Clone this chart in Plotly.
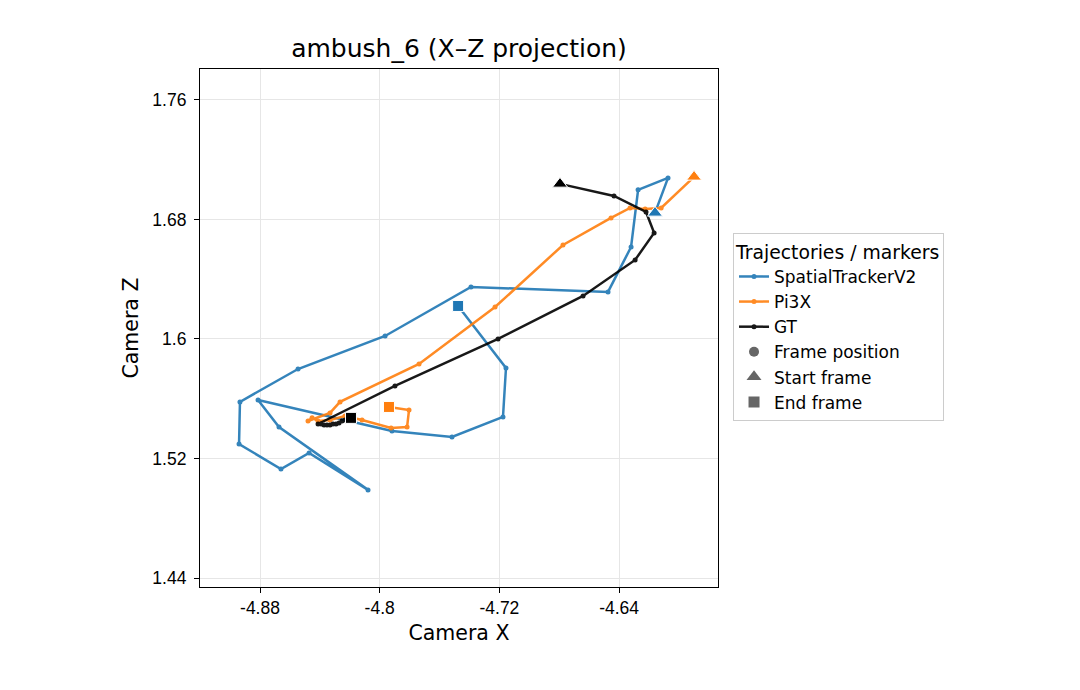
import plotly.graph_objects as go

# SpatialTrackerV2 trajectory (camera X, camera Z)
stv2_x = [-4.6160, -4.6073, -4.6273, -4.6320, -4.6474, -4.7390, -4.7964, -4.8546, -4.8934, -4.8940,
          -4.8660, -4.8472, -4.8078, -4.8673, -4.8813, -4.7918, -4.7517, -4.7176, -4.7156, -4.7476]
stv2_z = [1.6844, 1.7078, 1.6998, 1.6616, 1.6315, 1.6348, 1.6020, 1.5799, 1.5579, 1.5297,
          1.5130, 1.5237, 1.4990, 1.5411, 1.5592, 1.5384, 1.5344, 1.5478, 1.5806, 1.6221]

# Pi3X trajectory
pi3x_x = [-4.5899, -4.6119, -4.6226, -4.6327, -4.6454, -4.6775, -4.7229, -4.7737, -4.8265, -4.8332,
          -4.8479, -4.8452, -4.8412, -4.8332, -4.8232, -4.8118, -4.7924, -4.7817, -4.7804, -4.7938]
pi3x_z = [1.7085, 1.6877, 1.6870, 1.6877, 1.6810, 1.6629, 1.6214, 1.5833, 1.5579, 1.5505,
          1.5451, 1.5472, 1.5451, 1.5458, 1.5485, 1.5458, 1.5405, 1.5411, 1.5525, 1.5545]

# Ground truth trajectory
gt_x = [-4.6795, -4.6434, -4.6220, -4.6166, -4.6293, -4.6641, -4.7209, -4.7898, -4.8412, -4.8392,
        -4.8372, -4.8352, -4.8332, -4.8312, -4.8292, -4.8272, -4.8252, -4.8232, -4.8212, -4.8192]
gt_z = [1.7038, 1.6957, 1.6850, 1.6710, 1.6529, 1.6288, 1.6000, 1.5686, 1.5431, 1.5431,
        1.5425, 1.5425, 1.5425, 1.5431, 1.5431, 1.5438, 1.5451, 1.5458, 1.5465, 1.5472]

x_ticks = [-4.88, -4.80, -4.72, -4.64]
x_tick_labels = ["-4.88", "-4.8", "-4.72", "-4.64"]
z_ticks = [1.44, 1.52, 1.60, 1.68, 1.76]
z_tick_labels = ["1.44", "1.52", "1.6", "1.68", "1.76"]

series = [
    ("SpatialTrackerV2", stv2_x, stv2_z, "#1f77b4"),
    ("Pi3X", pi3x_x, pi3x_z, "#ff7f0e"),
    ("GT", gt_x, gt_z, "#000000"),
]

fig = go.Figure()
for name, xs, zs, col in series:
    fig.add_trace(go.Scatter(
        x=xs, y=zs, mode="lines+markers", name=name,
        line=dict(color=col, width=2.5), opacity=0.9,
        marker=dict(size=5, color=col, symbol="circle"),
    ))
for name, xs, zs, col in series:
    fig.add_trace(go.Scatter(
        x=[xs[0]], y=[zs[0]], mode="markers", showlegend=False,
        marker=dict(size=13, color=col, symbol="triangle-up", line=dict(color="white", width=1)),
    ))
    fig.add_trace(go.Scatter(
        x=[xs[-1]], y=[zs[-1]], mode="markers", showlegend=False,
        marker=dict(size=11, color=col, symbol="square", line=dict(color="white", width=1)),
    ))

legend_gray = "#666666"
for name, sym, sz in [("Frame position", "circle", 10), ("Start frame", "triangle-up", 13), ("End frame", "square", 11)]:
    fig.add_trace(go.Scatter(
        x=[None], y=[None], mode="markers", name=name,
        marker=dict(size=sz, color=legend_gray, symbol=sym),
    ))

axis_common = dict(
    showline=True, linecolor="black", linewidth=1.2, mirror=True,
    ticks="outside", ticklen=5, tickcolor="black",
    showgrid=True, gridcolor="#e6e6e6", gridwidth=1, zeroline=False,
    tickfont=dict(family="Liberation Sans, Arial, sans-serif", size=17.5, color="black"),
)

fig.update_layout(
    width=1080, height=690,
    paper_bgcolor="white", plot_bgcolor="white",
    margin=dict(l=200, r=362, t=69, b=103),
    font=dict(family="DejaVu Sans, sans-serif", color="black"),
    title=dict(text="ambush_6 (X–Z projection)", x=0.425, xanchor="center",
               y=1 - 48 / 690, yanchor="middle", font=dict(size=25, family="DejaVu Sans")),
    xaxis=dict(range=[-4.9201, -4.5739], tickvals=x_ticks, ticktext=x_tick_labels,
               title=dict(text="Camera X", font=dict(size=20.5), standoff=8), **axis_common),
    yaxis=dict(range=[1.434, 1.7807], tickvals=z_ticks, ticktext=z_tick_labels,
               ticklabelstandoff=4,
               title=dict(text="Camera Z", font=dict(size=20.5), standoff=8), **axis_common),
    legend=dict(
        title=dict(text="Trajectories / markers", font=dict(size=18.8)),
        x=1.029, xanchor="left", y=0.501, yanchor="middle",
        bordercolor="#cccccc", borderwidth=1, bgcolor="white",
        font=dict(size=17), itemsizing="trace", tracegroupgap=0,
    ),
    showlegend=True,
)

fig.write_html("out.html")
